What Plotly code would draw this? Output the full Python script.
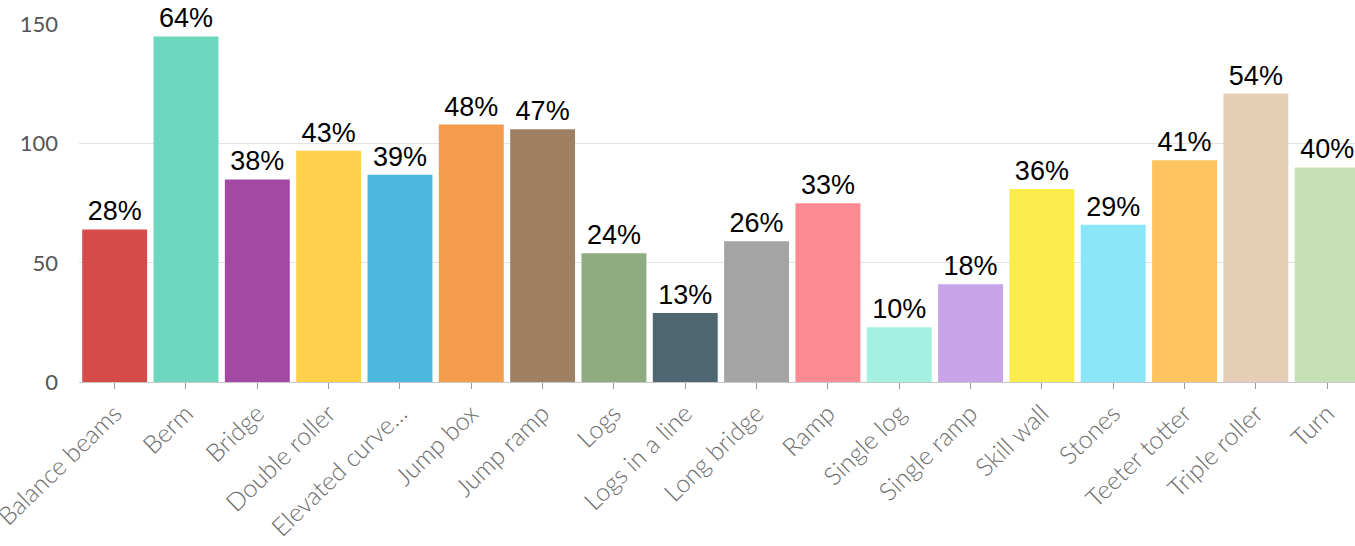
import plotly.graph_objects as go

categories = ["Balance beams", "Berm", "Bridge", "Double roller", "Elevated curve...",
              "Jump box", "Jump ramp", "Logs", "Logs in a line", "Long bridge", "Ramp",
              "Single log", "Single ramp", "Skill wall", "Stones", "Teeter totter",
              "Triple roller", "Turn"]
counts = [64, 145, 85, 97, 87, 108, 106, 54, 29, 59, 75, 23, 41, 81, 66, 93, 121, 90]
percents = [28, 64, 38, 43, 39, 48, 47, 24, 13, 26, 33, 10, 18, 36, 29, 41, 54, 40]
colors = ["#d64a4a", "#6dd6bf", "#a349a3", "#fdd14b", "#4cb8e0", "#f39c4c", "#a08063",
          "#8fab80", "#4e6670", "#a4a4a4", "#fc8a92", "#a4f1e1", "#caa4e8", "#fcec4b",
          "#8be6f7", "#fdc35f", "#e5cdb6", "#c6e1b6"]
y_ticks = [0, 50, 100, 150]

fig = go.Figure(go.Bar(
    x=categories,
    y=counts,
    marker=dict(color=colors, line=dict(width=0)),
    text=[f"{p}%" for p in percents],
    textposition="outside",
    textfont=dict(family="Liberation Sans, Arial, sans-serif", size=27, color="#000000"),
    cliponaxis=False,
    hoverinfo="x+y",
))

fig.update_layout(
    width=1355,
    height=546,
    margin=dict(l=79, r=0, t=24, b=164, pad=0, autoexpand=False),
    paper_bgcolor="white",
    plot_bgcolor="white",
    bargap=0.09,
    showlegend=False,
    xaxis=dict(
        type="category",
        range=[-0.5, 17.39],
        tickangle=-44,
        tickfont=dict(family="Lato, Open Sans, sans-serif", size=25, color="#6e6e6e", weight=300),
        ticks="outside",
        ticklen=6,
        tickcolor="#999999",
        showline=True,
        linecolor="#c8c8c8",
        linewidth=1,
        showgrid=False,
        automargin=False,
    ),
    yaxis=dict(
        range=[0, 150.2],
        tickvals=y_ticks,
        tickfont=dict(family="Lato, Open Sans, sans-serif", size=22, color="#555555"),
        showgrid=True,
        gridcolor="#e3e3e3",
        gridwidth=1,
        zeroline=False,
        ticklabelstandoff=20,
        automargin=False,
    ),
)

fig.write_html(
    "out.html",
    config={"displayModeBar": False},
    post_script="document.body.style.margin='0';document.body.style.overflow='hidden';",
)
